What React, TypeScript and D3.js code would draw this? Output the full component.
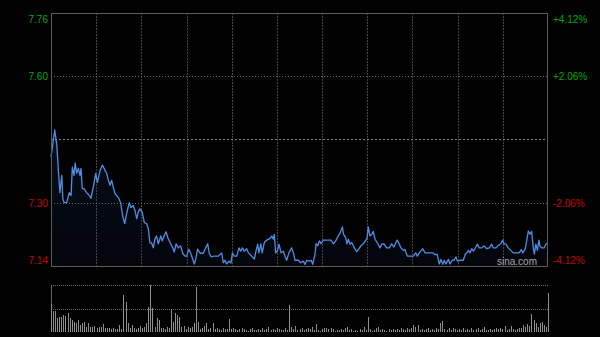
import React from "react";
import * as d3 from "d3";

const prevClose = 7.45;
const pctTicks = [4.12, 2.06, -2.06, -4.12];
const priceTickLabels = ["7.76", "7.60", "7.30", "7.14"];
const pctTickLabels = ["+4.12%", "+2.06%", "-2.06%", "-4.12%"];

// minute offsets from the open (0..240) and prices
const minutes = [
  0, 1.8, 2.8, 3.5, 4.3, 5.2, 5.7, 6.3, 7.6, 8.8, 9.7, 10.3, 11.1, 11.7, 12.4, 13.2, 14.0, 14.5, 15.1, 15.9,
  17.2, 18.5, 19.3, 20.4, 21.6, 22.4, 23.7, 24.8, 26.1, 26.9, 27.7, 28.5, 29.3, 30.1, 30.9, 31.7, 32.8, 33.7, 34.6, 35.6,
  36.6, 37.8, 38.6, 39.7, 40.6, 41.4, 42.2, 43.0, 44.1, 45.1, 46.2, 47.0, 47.8, 48.6, 49.4, 50.2, 51.0, 51.8, 53.0, 53.7,
  54.6, 55.5, 56.6, 57.8, 58.8, 59.5, 60.4, 61.5, 62.6, 63.6, 64.7, 65.5, 66.6, 67.6, 68.4, 69.2, 70.0, 70.8, 72.0, 73.5,
  74.7, 75.7, 76.4, 77.4, 78.7, 80.8, 82.4, 83.2, 84.0, 84.8, 86.0, 86.9, 87.6, 88.5, 89.7, 90.8, 91.6, 92.4, 93.3, 94.5,
  95.3, 96.9, 98.2, 99.0, 99.8, 100.4, 101.3, 102.0, 103.0, 104.2, 105.8, 106.6, 107.4, 107.8, 108.5, 109.3, 110.1, 111.1, 112.2, 113.0,
  113.8, 114.9, 116.2, 117.2, 117.8, 119.4, 120.7, 121.8, 122.7, 123.5, 124.6, 125.6, 126.4, 127.5, 128.0, 128.8, 129.6, 130.4, 131.5, 135.2,
  136.3, 137.5, 138.7, 139.7, 140.7, 141.3, 142.3, 142.9, 143.6, 144.4, 145.2, 146.5, 147.6, 148.4, 149.6, 150.8, 152.0, 152.6, 153.2, 154.0,
  154.9, 155.6, 156.5, 157.8, 158.9, 159.7, 160.8, 162.1, 163.4, 164.5, 165.6, 166.6, 167.2, 168.2, 169.0, 170.1, 170.9, 172.1, 175.0, 176.1,
  176.9, 177.9, 178.5, 179.5, 180.6, 184.3, 185.4, 186.5, 187.5, 188.3, 189.2, 189.9, 190.7, 191.9, 192.7, 193.8, 194.6, 195.6, 196.2, 197.5,
  199.1, 200.1, 200.8, 201.6, 202.4, 203.2, 204.0, 204.7, 205.9, 206.8, 208.0, 209.1, 210.4, 211.7, 212.8, 213.6, 214.9, 216.0, 217.2, 218.1,
  218.8, 219.7, 220.8, 222.0, 223.2, 226.1, 227.1, 227.8, 228.9, 229.7, 230.5, 231.3, 232.1, 232.9, 233.4, 234.1, 234.9, 235.6, 236.1, 236.9,
  238.1, 238.9, 239.4, 240,
];
const prices = [
  7.408, 7.473, 7.437, 7.380, 7.321, 7.363, 7.307, 7.297, 7.297, 7.321, 7.314, 7.383, 7.363, 7.393, 7.368, 7.380, 7.363, 7.380, 7.331, 7.331,
  7.321, 7.314, 7.307, 7.334, 7.368, 7.346, 7.375, 7.388, 7.375, 7.368, 7.351, 7.339, 7.351, 7.334, 7.319, 7.314, 7.307, 7.295, 7.265, 7.246,
  7.272, 7.297, 7.285, 7.290, 7.277, 7.258, 7.275, 7.282, 7.272, 7.248, 7.246, 7.233, 7.199, 7.199, 7.187, 7.209, 7.216, 7.197, 7.216, 7.204,
  7.216, 7.226, 7.209, 7.197, 7.187, 7.177, 7.197, 7.187, 7.192, 7.174, 7.167, 7.167, 7.184, 7.172, 7.160, 7.148, 7.162, 7.184, 7.174, 7.174,
  7.187, 7.197, 7.174, 7.165, 7.167, 7.167, 7.175, 7.151, 7.157, 7.148, 7.155, 7.150, 7.175, 7.167, 7.167, 7.187, 7.179, 7.187, 7.179, 7.185,
  7.175, 7.167, 7.160, 7.179, 7.196, 7.175, 7.197, 7.175, 7.200, 7.206, 7.210, 7.216, 7.208, 7.220, 7.175, 7.179, 7.196, 7.175, 7.179, 7.167,
  7.157, 7.175, 7.187, 7.173, 7.157, 7.157, 7.151, 7.155, 7.147, 7.157, 7.155, 7.157, 7.147, 7.172, 7.197, 7.192, 7.204, 7.197, 7.206, 7.206,
  7.197, 7.204, 7.216, 7.224, 7.238, 7.220, 7.212, 7.197, 7.208, 7.196, 7.200, 7.187, 7.178, 7.183, 7.192, 7.197, 7.206, 7.210, 7.238, 7.216,
  7.220, 7.227, 7.208, 7.197, 7.187, 7.196, 7.197, 7.187, 7.187, 7.197, 7.189, 7.200, 7.206, 7.196, 7.187, 7.181, 7.183, 7.167, 7.167, 7.175,
  7.167, 7.175, 7.179, 7.185, 7.175, 7.175, 7.171, 7.171, 7.148, 7.159, 7.147, 7.157, 7.148, 7.159, 7.148, 7.157, 7.157, 7.165, 7.155, 7.157,
  7.157, 7.172, 7.175, 7.181, 7.175, 7.185, 7.179, 7.185, 7.196, 7.187, 7.187, 7.192, 7.185, 7.187, 7.196, 7.187, 7.187, 7.193, 7.197, 7.206,
  7.197, 7.196, 7.187, 7.181, 7.175, 7.175, 7.183, 7.175, 7.183, 7.204, 7.228, 7.220, 7.227, 7.187, 7.172, 7.196, 7.181, 7.206, 7.192, 7.187,
  7.187, 7.196, 7.197, 7.197,
];

// per-minute volume (relative units), minute 0..240
const volumes = [
  28, 21, 21, 14, 15, 15, 17, 16, 19, 14, 12, 10, 9, 12, 7, 9, 10, 5, 9, 5,
  5, 6, 4, 5, 5, 8, 4, 4, 4, 3, 4, 3, 3, 7, 3, 37, 30, 9, 4, 7,
  4, 3, 4, 6, 4, 5, 9, 25, 47, 24, 5, 14, 12, 4, 4, 3, 5, 4, 23, 10,
  19, 17, 15, 5, 6, 3, 5, 4, 5, 9, 45, 10, 3, 4, 6, 9, 3, 4, 9, 3,
  4, 3, 2, 4, 3, 3, 13, 3, 4, 3, 2, 3, 4, 3, 2, 1, 3, 4, 2, 2,
  3, 2, 4, 2, 3, 5, 2, 3, 2, 4, 3, 2, 2, 4, 2, 27, 5, 3, 6, 2,
  3, 4, 2, 3, 4, 3, 5, 2, 8, 2, 1, 3, 4, 4, 3, 4, 3, 1, 2, 2,
  3, 2, 4, 5, 2, 3, 1, 2, 1, 3, 2, 5, 2, 15, 3, 1, 2, 4, 5, 2,
  3, 2, 1, 3, 2, 3, 2, 3, 2, 4, 3, 2, 4, 3, 4, 7, 5, 7, 2, 3,
  2, 3, 4, 2, 3, 2, 4, 3, 9, 11, 3, 2, 4, 2, 4, 3, 2, 3, 2, 4,
  2, 3, 2, 4, 2, 3, 4, 2, 3, 5, 2, 2, 3, 2, 3, 4, 3, 4, 3, 6,
  2, 3, 6, 3, 2, 3, 4, 4, 7, 5, 8, 6, 18, 12, 9, 5, 9, 10, 7, 5,
  39,
];

const W = 600;
const H = 337;
const L = 51;
const R = 548;
const T = 13;
const B = 266;
const VT = 285;
const VB = 332;

export default function App() {
  const x = d3.scaleLinear().domain([0, 240]).range([L, R]);
  const y = d3
    .scaleLinear()
    .domain([prevClose * (1 - 0.0412), prevClose * (1 + 0.0412)])
    .range([B, T]);
  const vy = d3.scaleLinear().domain([0, d3.max(volumes) as number]).range([VB, VT]);

  const pts = minutes.map((m, i) => [m, prices[i]] as [number, number]);
  const line = d3
    .line<[number, number]>()
    .x((d) => x(d[0]))
    .y((d) => y(d[1]));
  const area = d3
    .area<[number, number]>()
    .x((d) => x(d[0]))
    .y0(B)
    .y1((d) => y(d[1]));

  const vGrid = d3.range(1, 11).map((k) => Math.round(x((k * 240) / 11)) + 0.5);
  const font = "'Liberation Sans', Arial, sans-serif";

  const labelY = (i: number) => {
    if (i === 0) return T + 10;
    if (i === pctTicks.length - 1) return B - 2;
    return y(prevClose * (1 + pctTicks[i] / 100)) + 4;
  };
  const colorFor = (p: number) => (p > 0 ? "#00a800" : "#cc0000");

  return (
    <svg
      width={W}
      height={H}
      style={{ position: "fixed", left: 0, top: 0, background: "#000", display: "block" }}
    >
      <defs>
        <linearGradient id="fillGrad" x1="0" y1="0" x2="0" y2="1">
          <stop offset="0%" stopColor="#1e3f7a" stopOpacity={0.22} />
          <stop offset="100%" stopColor="#1e3f7a" stopOpacity={0.08} />
        </linearGradient>
      </defs>
      <rect x={0} y={0} width={W} height={H} fill="#000" />

      {/* area fill */}
      <path d={area(pts) || ""} fill="url(#fillGrad)" stroke="none" />

      {/* vertical grid */}
      {vGrid.map((gx, i) => (
        <line key={"vg" + i} x1={gx} x2={gx} y1={T} y2={B} stroke="#444" strokeDasharray="2,1" />
      ))}
      {/* horizontal grid */}
      {pctTicks.slice(1, 3).map((p, i) => {
        const gy = Math.round(y(prevClose * (1 + p / 100))) + 0.5;
        return (
          <line key={"hg" + i} x1={L} x2={R} y1={gy} y2={gy} stroke="#666" strokeDasharray="1,2" />
        );
      })}
      <line
        x1={L}
        x2={R}
        y1={Math.round(y(prevClose)) + 0.5}
        y2={Math.round(y(prevClose)) + 0.5}
        stroke="#888"
        strokeDasharray="2,2"
      />

      {/* price line */}
      <path d={line(pts) || ""} fill="none" stroke="#4f8ee6" strokeWidth={1.3} strokeLinejoin="round" />

      {/* frame */}
      <rect x={L + 0.5} y={T + 0.5} width={R - L - 1} height={B - T} fill="none" stroke="#5c5c5c" strokeWidth={1} />

      {/* labels */}
      {priceTickLabels.map((t, i) => (
        <text
          key={"pl" + i}
          x={48}
          y={labelY(i)}
          textAnchor="end"
          fontFamily={font}
          fontSize={10}
          fill={colorFor(pctTicks[i])}
        >
          {t}
        </text>
      ))}
      {pctTickLabels.map((t, i) => (
        <text
          key={"pr" + i}
          x={553}
          y={labelY(i)}
          textAnchor="start"
          fontFamily={font}
          fontSize={10}
          fill={colorFor(pctTicks[i])}
        >
          {t}
        </text>
      ))}

      <text x={537} y={265} textAnchor="end" fontFamily={font} fontSize={10} fill="#a8a8a8">
        sina.com
      </text>

      {/* volume panel */}
      <line x1={L} x2={R} y1={VT + 0.5} y2={VT + 0.5} stroke="#6a6a6a" strokeDasharray="1,1" />
      <line
        x1={L}
        x2={R}
        y1={Math.round((VT + VB) / 2) + 0.5}
        y2={Math.round((VT + VB) / 2) + 0.5}
        stroke="#6a6a6a"
        strokeDasharray="1,1"
      />
      <line x1={L + 0.5} x2={L + 0.5} y1={VT} y2={VB} stroke="#666" />
      {volumes.map((v, i) => {
        const bx = Math.round(x(i)) + 0.5;
        return <line key={"v" + i} x1={bx} x2={bx} y1={VB} y2={vy(v)} stroke="#8f8f8f" strokeWidth={1} />;
      })}
    </svg>
  );
}
